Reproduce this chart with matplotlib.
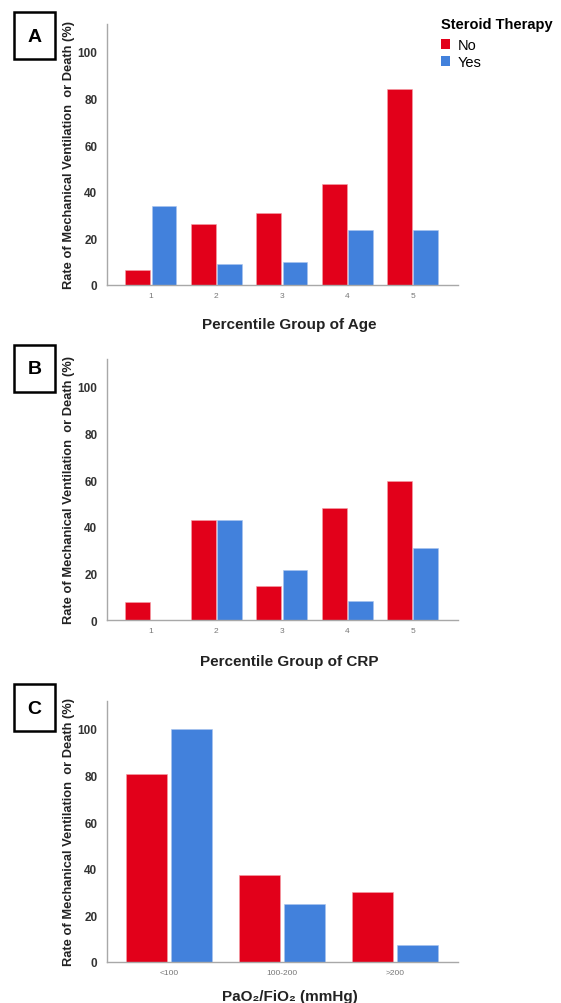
import numpy as np
import matplotlib
matplotlib.use("Agg")
import matplotlib.pyplot as plt
from matplotlib.patches import Rectangle, Patch

plt.rcParams['font.family'] = ['Liberation Sans', 'DejaVu Sans']

# ============================================
# Data
# ============================================
age_groups = ["1", "2", "3", "4", "5"]
age_no = [6.4, 26.2, 30.8, 43.3, 84.2]
age_yes = [33.7, 9.0, 9.9, 23.4, 23.8]

crp_groups = ["1", "2", "3", "4", "5"]
crp_no = [7.7, 42.9, 14.4, 48.2, 59.5]
crp_yes = [0.0, 42.9, 21.5, 8.3, 31.0]

pf_groups = ["<100", "100-200", ">200"]
pf_no = [80.6, 37.3, 30.1]
pf_yes = [100.0, 25.0, 7.3]

series_names = ["No", "Yes"]
RED = "#E2001A"
BLUE = "#4281DC"

W, H = 561, 1004
fig = plt.figure(figsize=(W / 100, H / 100), dpi=100)


def px_rect(left, top, right, bottom):
    return [left / W, 1 - bottom / H, (right - left) / W, (bottom - top) / H]


def panel(rect, cats, no, yes, xlabel, letter, box_top, width, xpad, xl_y):
    ax = fig.add_axes(rect)
    x = np.arange(len(cats))
    ax.bar(x - 0.2, no, width=width, color=RED, edgecolor="#f4a0a8", linewidth=0.4)
    ax.bar(x + 0.2, yes, width=width, color=BLUE, edgecolor="#a8c4ee", linewidth=0.4)
    ax.set_xlim(-xpad[0], len(cats) - 1 + xpad[1])
    ax.set_ylim(0, 112)
    ax.set_yticks([0, 20, 40, 60, 80, 100])
    ax.set_xticks(x)
    ax.set_xticklabels(cats)
    for s in ["top", "right"]:
        ax.spines[s].set_visible(False)
    for s in ["left", "bottom"]:
        ax.spines[s].set_color("#a8a8a8")
        ax.spines[s].set_linewidth(1.0)
    ax.tick_params(axis="y", length=0, pad=7, labelsize=8.5, labelcolor="#333333")
    ax.tick_params(axis="x", length=0, pad=5, labelsize=6, labelcolor="#777777")
    for t in ax.get_yticklabels():
        t.set_fontweight("bold")
    ax.set_ylabel("Rate of Mechanical Ventilation  or Death (%)", fontsize=9.3,
                  fontweight="bold", color="#222222")
    ax.yaxis.set_label_coords(-0.09, 0.5)
    ax.set_xlabel(xlabel, fontsize=11, fontweight="bold", color="#222222")
    ax.xaxis.set_label_coords(0.52, xl_y)

    # panel letter box
    fig.add_artist(Rectangle((14 / W, 1 - (box_top + 47) / H), 41 / W, 47 / H,
                             transform=fig.transFigure, fill=False,
                             edgecolor="black", linewidth=1.8))
    fig.text(34.5 / W, 1 - (box_top + 24) / H, letter, fontsize=14,
             fontweight="bold", ha="center", va="center")
    return ax


axA = panel(px_rect(107, 25, 458, 286), age_groups, age_no, age_yes,
            "Percentile Group of Age", "A", 13, 0.38, (0.67, 0.69), -0.122)
axB = panel(px_rect(107, 360, 458, 621), crp_groups, crp_no, crp_yes,
            "Percentile Group of CRP", "B", 346, 0.38, (0.67, 0.69), -0.13)
axC = panel(px_rect(107, 702, 458, 963), pf_groups, pf_no, pf_yes,
            "PaO\u2082/FiO\u2082 (mmHg)", "C", 685, 0.36, (0.546, 0.555), -0.105)

# legend
handles = [Patch(facecolor=RED, label=series_names[0]),
           Patch(facecolor=BLUE, label=series_names[1])]
leg = fig.legend(handles=handles, title="Steroid Therapy", loc="upper left",
                 bbox_to_anchor=(441 / W, 1 - 18 / H), frameon=False,
                 fontsize=10.5, title_fontsize=10.5, handlelength=0.65,
                 handleheight=0.65, handletextpad=0.5, labelspacing=0.22,
                 borderaxespad=0, borderpad=0)
leg.get_title().set_fontweight("bold")
leg._legend_box.align = "left"
leg._legend_box.sep = 5

fig.savefig("out.png", dpi=100)
